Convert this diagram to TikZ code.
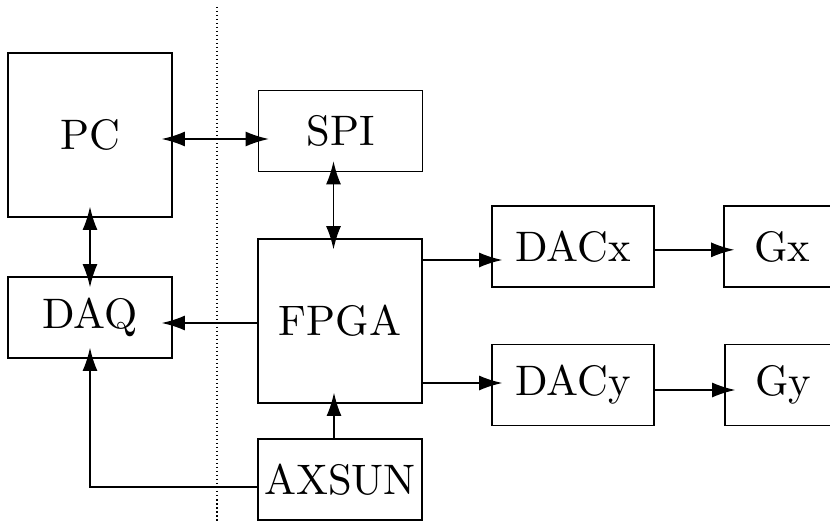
\documentclass[tikz,border=0pt]{standalone}
\usepackage{graphicx}
\usepackage{tikz}
\usetikzlibrary{positioning,arrows.meta,calc}
\newcommand{\blklabel}[1]{\scalebox{2.56}{#1}}

\begin{document}
\begin{tikzpicture}[x=.6pt,y=-.6pt,
    blk/.style={draw,line width=.7pt,minimum width=98.4pt,minimum height=48.6pt,inner sep=0pt},
    arr/.style={-{Latex[length=14pt,width=9pt]},line width=1pt,shorten >=-6.6pt},
    darr/.style={{Latex[length=14pt,width=9pt]}-{Latex[length=14pt,width=9pt]},line width=1pt,shorten >=-6.6pt,shorten <=-6.6pt}]
    \useasboundingbox (0,0) rectangle (830,522);
    % PC side / board side
    \draw[line width=.8pt,dash pattern=on .9pt off 1.5pt] (217,7)--(217,522);
    \node[blk,minimum height=98.4pt] (pc) at (90,135) {\blklabel{PC}};
    \node[blk] (daq) at (90,317.5) {\blklabel{DAQ}};
    \node[blk] (spi) at (340.5,131) {\blklabel{SPI}};
    \node[blk,minimum height=98.4pt] (fpga) at (340,321) {\blklabel{FPGA}};
    \node[blk] (axsun) at (340,479.5) {\blklabel{AXSUN}};
    \node[blk,minimum width=97.2pt] (dacx) at (573,246.5) {\blklabel{DACx}};
    \node[blk,minimum width=97.2pt] (dacy) at (573,385) {\blklabel{DACy}};
    \node[blk,minimum width=69.6pt] (gx) at (782,246.5) {\blklabel{Gx}};
    \node[blk,minimum width=69.6pt] (gy) at (783,385) {\blklabel{Gy}};
    % links
    \draw[darr] ([yshift=-2.4pt]pc.east) coordinate (pcr) -- (pcr -| spi.west);
    \draw[darr] ([xshift=-4.2pt]spi.south) coordinate (spib) -- (spib |- fpga.north);
    \draw[darr] (pc.south) -- (daq.north);
    \draw[arr] ([yshift=-1.2pt]fpga.west) coordinate (fl) -- (fl -| daq.east);
    \draw[arr] ([xshift=-3.6pt]axsun.north) coordinate (axt) -- (axt |- fpga.south);
    \draw[arr] ([yshift=-4.5pt]axsun.west) -| (daq.south);
    \draw[arr] ([yshift=36.6pt]fpga.east) coordinate (fx) -- (fx -| dacx.west);
    \draw[arr] ([yshift=-37.2pt]fpga.east) coordinate (fy) -- (fy -| dacy.west);
    \draw[arr] ([yshift=-2pt]dacx.east) coordinate (dx) -- (dx -| gx.west);
    \draw[arr] ([yshift=-3pt]dacy.east) coordinate (dy) -- (dy -| gy.west);
  \end{tikzpicture}
\end{document}
